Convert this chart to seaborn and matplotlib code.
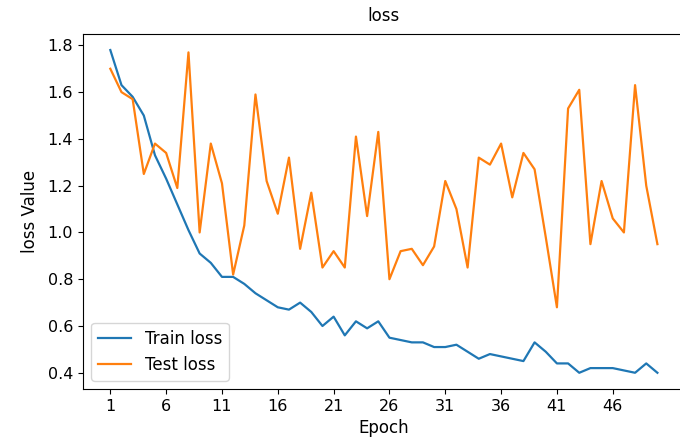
import matplotlib
matplotlib.use("Agg")
import matplotlib.pyplot as plt
import seaborn as sns
import pandas as pd

epochs = list(range(1, 51))
train_loss = [1.78, 1.63, 1.58, 1.50, 1.33, 1.23, 1.12, 1.01, 0.91, 0.87,
              0.81, 0.81, 0.78, 0.74, 0.71, 0.68, 0.67, 0.70, 0.66, 0.60,
              0.64, 0.56, 0.62, 0.59, 0.62, 0.55, 0.54, 0.53, 0.53, 0.51,
              0.51, 0.52, 0.49, 0.46, 0.48, 0.47, 0.46, 0.45, 0.53, 0.49,
              0.44, 0.44, 0.40, 0.42, 0.42, 0.42, 0.41, 0.40, 0.44, 0.40]
test_loss = [1.70, 1.60, 1.57, 1.25, 1.38, 1.34, 1.19, 1.77, 1.00, 1.38,
             1.21, 0.82, 1.03, 1.59, 1.22, 1.08, 1.32, 0.93, 1.17, 0.85,
             0.92, 0.85, 1.41, 1.07, 1.43, 0.80, 0.92, 0.93, 0.86, 0.94,
             1.22, 1.10, 0.85, 1.32, 1.29, 1.38, 1.15, 1.34, 1.27, 0.98,
             0.68, 1.53, 1.61, 0.95, 1.22, 1.06, 1.00, 1.63, 1.20, 0.95]
series_names = ["Train loss", "Test loss"]
xtick_values = list(range(1, 51, 5))

df = pd.DataFrame({
    "Epoch": epochs * 2,
    "loss": train_loss + test_loss,
    "series": [series_names[0]] * len(epochs) + [series_names[1]] * len(epochs),
})

plt.rcParams["font.family"] = ["DejaVu Sans"]
plt.rcParams["font.size"] = 12

fig = plt.figure(figsize=(6.8, 4.46), dpi=100)
ax = fig.add_axes([0.122, 0.128, 0.885, 0.796])

sns.lineplot(data=df, x="Epoch", y="loss", hue="series",
             palette=["#1f77b4", "#ff7f0e"], linewidth=1.6, ax=ax)

ax.set_xticks(xtick_values)
ax.set_yticks([0.4, 0.6, 0.8, 1.0, 1.2, 1.4, 1.6, 1.8])
ax.set_title("loss", fontsize=12, pad=9)
ax.set_xlabel("Epoch", fontsize=12)
ax.set_ylabel("loss Value", fontsize=12, labelpad=6)
ax.tick_params(labelsize=11.5)
ax.legend(loc="lower left", fontsize=12, title=None)

fig.savefig("out.png", dpi=100)
